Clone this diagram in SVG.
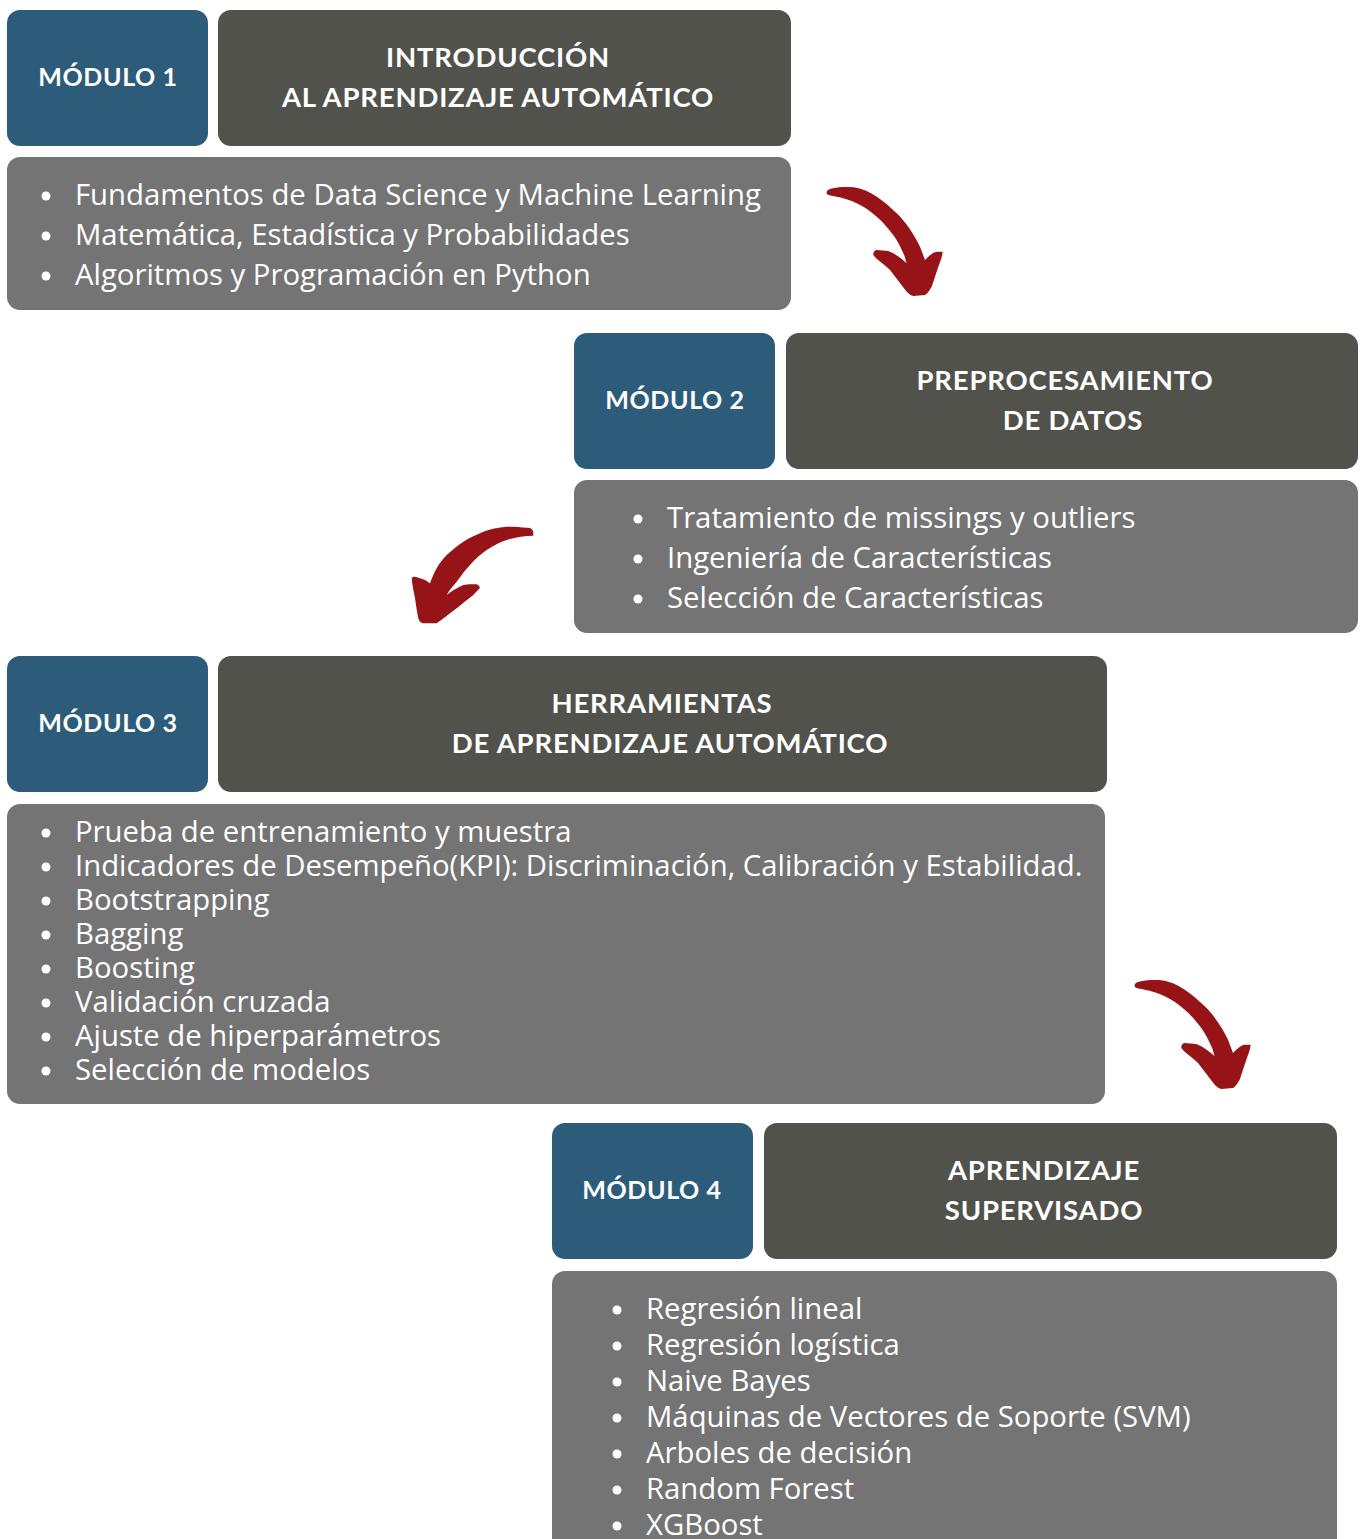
<svg xmlns="http://www.w3.org/2000/svg" width="1367" height="1539" viewBox="0 0 1367 1539">
<style>
.blue{fill:#2C5C7A}
.dark{fill:#52524C}
.grey{fill:#747474}
.lab{font-family:Lato,"Open Sans",sans-serif;font-weight:700;font-size:25px;fill:#fff;text-anchor:middle;letter-spacing:0.6px}
.ttl{font-family:Lato,"Open Sans",sans-serif;font-weight:700;font-size:27.5px;fill:#fff;text-anchor:middle;letter-spacing:0.8px}
.li{font-family:"Open Sans",sans-serif;font-size:29.3px;fill:#fff}
.dot{fill:#fff}
.arr{fill:#961418}
</style>
<rect width="1367" height="1539" fill="#fff"/>
<g id="module1">
<rect class="blue" x="7" y="10" width="201" height="136" rx="13"/>
<rect class="dark" x="218" y="10" width="573" height="136" rx="13"/>
<rect class="grey" x="7" y="157" width="784" height="153" rx="13"/>
<text class="lab" x="108" y="86">MÓDULO 1</text>
<text class="ttl" x="498" y="67">INTRODUCCIÓN</text>
<text class="ttl" x="498" y="107">AL APRENDIZAJE AUTOMÁTICO</text>
<circle class="dot" cx="46" cy="196" r="4.5"/>
<circle class="dot" cx="46" cy="236" r="4.5"/>
<circle class="dot" cx="46" cy="276" r="4.5"/>
<text class="li" x="75" y="205">Fundamentos de Data Science y Machine Learning</text>
<text class="li" x="75" y="245">Matemática, Estadística y Probabilidades</text>
<text class="li" x="75" y="285">Algoritmos y Programación en Python</text>
</g>
<g id="module2">
<rect class="blue" x="574" y="333" width="201" height="136" rx="13"/>
<rect class="dark" x="786" y="333" width="572" height="136" rx="13"/>
<rect class="grey" x="574" y="480" width="784" height="153" rx="13"/>
<text class="lab" x="675" y="409">MÓDULO 2</text>
<text class="ttl" x="1065" y="390">PREPROCESAMIENTO</text>
<text class="ttl" x="1073" y="430">DE DATOS</text>
<circle class="dot" cx="638" cy="519" r="4.5"/>
<circle class="dot" cx="638" cy="559" r="4.5"/>
<circle class="dot" cx="638" cy="599" r="4.5"/>
<text class="li" x="667" y="528">Tratamiento de missings y outliers</text>
<text class="li" x="667" y="568">Ingeniería de Características</text>
<text class="li" x="667" y="608">Selección de Características</text>
</g>
<g id="module3">
<rect class="blue" x="7" y="656" width="201" height="136" rx="13"/>
<rect class="dark" x="218" y="656" width="889" height="136" rx="13"/>
<rect class="grey" x="7" y="804" width="1098" height="300" rx="13"/>
<text class="lab" x="108" y="732">MÓDULO 3</text>
<text class="ttl" x="662" y="713">HERRAMIENTAS</text>
<text class="ttl" x="670" y="753">DE APRENDIZAJE AUTOMÁTICO</text>
<g class="dot">
<circle cx="46" cy="833" r="4.5"/><circle cx="46" cy="867" r="4.5"/><circle cx="46" cy="901" r="4.5"/><circle cx="46" cy="935" r="4.5"/><circle cx="46" cy="969" r="4.5"/><circle cx="46" cy="1003" r="4.5"/><circle cx="46" cy="1037" r="4.5"/><circle cx="46" cy="1071" r="4.5"/>
</g>
<text class="li" x="75" y="842">Prueba de entrenamiento y muestra</text>
<text class="li" x="75" y="876">Indicadores de Desempeño(KPI): Discriminación, Calibración y Estabilidad.</text>
<text class="li" x="75" y="910">Bootstrapping</text>
<text class="li" x="75" y="944">Bagging</text>
<text class="li" x="75" y="978">Boosting</text>
<text class="li" x="75" y="1012">Validación cruzada</text>
<text class="li" x="75" y="1046">Ajuste de hiperparámetros</text>
<text class="li" x="75" y="1080">Selección de modelos</text>
</g>
<g id="module4">
<rect class="blue" x="552" y="1123" width="201" height="136" rx="13"/>
<rect class="dark" x="764" y="1123" width="573" height="136" rx="13"/>
<rect class="grey" x="552" y="1271" width="785" height="290" rx="13"/>
<text class="lab" x="652" y="1199">MÓDULO 4</text>
<text class="ttl" x="1044" y="1180">APRENDIZAJE</text>
<text class="ttl" x="1044" y="1220">SUPERVISADO</text>
<g class="dot">
<circle cx="617" cy="1310" r="4.5"/><circle cx="617" cy="1346" r="4.5"/><circle cx="617" cy="1382" r="4.5"/><circle cx="617" cy="1418" r="4.5"/><circle cx="617" cy="1454" r="4.5"/><circle cx="617" cy="1490" r="4.5"/><circle cx="617" cy="1526" r="4.5"/>
</g>
<text class="li" x="646" y="1319">Regresión lineal</text>
<text class="li" x="646" y="1355">Regresión logística</text>
<text class="li" x="646" y="1391">Naive Bayes</text>
<text class="li" x="646" y="1427">Máquinas de Vectores de Soporte (SVM)</text>
<text class="li" x="646" y="1463">Arboles de decisión</text>
<text class="li" x="646" y="1499">Random Forest</text>
<text class="li" x="646" y="1535">XGBoost</text>
</g>
<defs>
<path id="arrowR" d="M826.7,191.7 C828,188 840,186.5 853.3,187.3 C870,189 886,203 896.7,213.3 C906,222 915,236 920,246.7 L925,260 C929,256 933,252 936.7,251.7 L942.7,251.7 C942,258 940,262 938.3,266.7 L931.7,286.7 C929,291 927,294 925,295 L913.3,296 C910,295 908,293 906.7,291.7 L890,270 C884,264 876,259 873.3,255 C873,252 875,250 876.7,250 L888.3,251 C896,254 902,259 906.7,263.3 C905,259 905,256 903.3,253.3 C900,246 897,240 893.3,235 C887,227 883,222 876.7,216.7 C870,211 863,206 856.7,203.3 C850,200 843,198 836.7,196.7 C832,196 828,195 826.7,194 Z"/>
</defs>
<g id="connectors">
<use href="#arrowR" class="arr"/>
<use href="#arrowR" class="arr" transform="translate(308,793)"/>
<path class="arr" d="M533.3,531.7 C532,528 530,527.5 526.7,527.7 C520,527 513,526.5 506.7,526.7 C498,527.5 490,529 483.3,531.7 C476,535 469,538 463.3,541.7 C457,546 451,551 446.7,555 C442,560 439,564 436.7,568.3 C434,573 432,578 430,583.3 C428,582 427,581 425,580 C420,578 416,576.5 413.3,576.7 L411.7,578.3 C412,585 414,592 415,598.3 C416,605 417,612 418.3,618.3 C419,621 421,623 423.3,623.3 L436.7,623.3 C443,619 450,613 456.7,608.3 C462,604 468,599 473.3,595 C476,592 479,589 480,587.7 C479,586 478,585 476.7,584.3 C472,584 467,584 463.3,585 C457,588 451,591 446.7,595 C449,590 453,586 456.7,581.7 C461,576 465,570 470,565 C475,559 481,554 486.7,550 C493,546 500,542 506.7,540 C515,537 525,536 533.3,535.7 Z"/>
</g>
</svg>
